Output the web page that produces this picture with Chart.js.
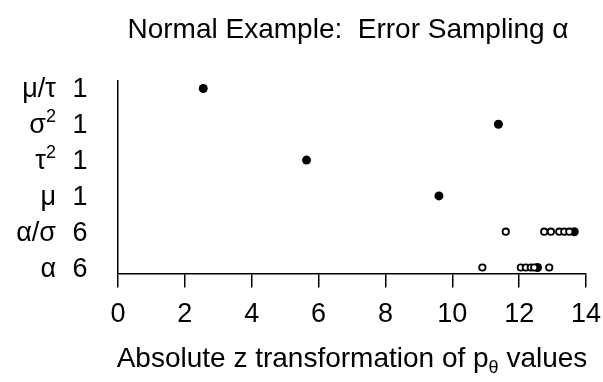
<!DOCTYPE html>
<html>
<head>
<meta charset="utf-8">
<script src="https://cdn.jsdelivr.net/npm/chart.js@4/dist/chart.umd.min.js"></script>
<style>
  html, body { margin: 0; padding: 0; background: #fff; }
  #wrap { width: 603px; height: 382px; }
</style>
</head>
<body>
<div id="wrap"><canvas id="chart"></canvas></div>
<script>
  'use strict';

  // rows bottom to top
  var rowNames = ['α', 'α/σ', 'μ', 'τ²', 'σ²', 'μ/τ'];
  var rowCounts = ['6', '6', '1', '1', '1', '1'];
  var observed = [12.55, 13.65, 9.6, 5.64, 11.38, 2.55];
  var alphaDraws = [10.9, 12.05, 12.2, 12.35, 12.45, 12.9];
  var alphaSigmaDraws = [11.6, 12.75, 12.95, 13.2, 13.35, 13.5];
  var xTicks = [0, 2, 4, 6, 8, 10, 12, 14];

  var FONT = 'Liberation Sans, Arial, Helvetica, sans-serif';
  var SIZE = 27;
  var TITLE_SIZE = 28;

  var filledPts = observed.map(function(v, i){ return {x: v, y: i + 1}; });
  var openPts = alphaDraws.map(function(v){ return {x: v, y: 1}; })
    .concat(alphaSigmaDraws.map(function(v){ return {x: v, y: 2}; }));

  // draws a run of text pieces; '²' becomes a raised small 2
  function splitSup(str){
    var out = [];
    str.split('²').forEach(function(s, i){
      if (i > 0) out.push({t: '2', size: 18, dy: -11});
      if (s) out.push({t: s, size: SIZE, dy: 0});
    });
    return out;
  }

  function measure(ctx, parts){
    var total = 0;
    parts.forEach(function(p){
      ctx.font = p.size + 'px ' + FONT;
      p.w = ctx.measureText(p.t).width;
      total += p.w;
    });
    return total;
  }

  function drawParts(ctx, parts, x, base){
    parts.forEach(function(p){
      ctx.font = p.size + 'px ' + FONT;
      ctx.fillText(p.t, x, base + p.dy);
      x += p.w;
    });
  }

  // row labels on the left, two columns: name and count
  var rowLabels = {
    id: 'rowLabels',
    afterDraw: function(chart){
      var ctx = chart.ctx;
      var y = chart.scales.y;
      var left = chart.chartArea.left;
      ctx.save();
      ctx.fillStyle = '#000';
      ctx.textBaseline = 'alphabetic';
      ctx.textAlign = 'left';
      rowNames.forEach(function(name, i){
        var base = y.getPixelForValue(i + 1) + 9;
        var parts = splitSup(name);
        var w = measure(ctx, parts);
        drawParts(ctx, parts, left - 62 - w, base);
        ctx.font = SIZE + 'px ' + FONT;
        var cw = ctx.measureText(rowCounts[i]).width;
        ctx.fillText(rowCounts[i], left - 38 - cw / 2, base);
      });
      ctx.restore();
    }
  };

  // x axis title with subscript theta
  var xTitle = {
    id: 'xTitle',
    afterDraw: function(chart){
      var ctx = chart.ctx;
      var area = chart.chartArea;
      var parts = [
        {t: 'Absolute z transformation of p', size: TITLE_SIZE, dy: 0},
        {t: 'θ', size: 18, dy: 6},
        {t: ' values', size: TITLE_SIZE, dy: 0}
      ];
      ctx.save();
      ctx.fillStyle = '#000';
      ctx.textBaseline = 'alphabetic';
      ctx.textAlign = 'left';
      var total = measure(ctx, parts);
      drawParts(ctx, parts, (area.left + area.right) / 2 - total / 2, chart.height - 15);
      ctx.restore();
    }
  };

  var config = {
    type: 'scatter',
    data: {
      datasets: [
        {
          label: 'draws',
          data: openPts,
          pointRadius: 3.2,
          pointBorderWidth: 1.8,
          pointBackgroundColor: '#fff',
          pointBorderColor: '#000'
        },
        {
          label: 'observed',
          data: filledPts,
          pointRadius: 4.5,
          pointBorderWidth: 0,
          pointBackgroundColor: '#000',
          pointBorderColor: '#000'
        }
      ]
    },
    options: {
      responsive: true,
      maintainAspectRatio: false,
      animation: false,
      layout: {
        padding: {left: 110, right: 17, top: 0, bottom: 40}
      },
      plugins: {
        legend: {display: false},
        tooltip: {enabled: false},
        title: {
          display: true,
          text: 'Normal Example:  Error Sampling α',
          color: '#000',
          font: {family: FONT, size: TITLE_SIZE, weight: 'normal'},
          padding: {top: 13, bottom: 34}
        }
      },
      scales: {
        x: {
          type: 'linear',
          min: 0,
          max: 14,
          afterBuildTicks: function(axis){
            axis.ticks = xTicks.map(function(v){ return {value: v}; });
          },
          afterFit: function(axis){
            // let the end labels overhang instead of shrinking the plot
            axis.paddingLeft = 0;
            axis.paddingRight = 0;
          },
          ticks: {
            color: '#000',
            font: {family: FONT, size: SIZE},
            padding: 11,
            maxRotation: 0
          },
          grid: {
            drawOnChartArea: false,
            drawTicks: true,
            tickLength: 14,
            color: '#000',
            lineWidth: 1.5
          },
          border: {display: true, color: '#000', width: 1.5}
        },
        y: {
          type: 'linear',
          min: 0.83,
          max: 6.22,
          ticks: {display: false},
          grid: {display: false},
          border: {display: true, color: '#000', width: 1.5}
        }
      }
    },
    plugins: [rowLabels, xTitle]
  };

  var ctx = document.getElementById('chart').getContext('2d');
  var myChart = new Chart(ctx, config);
</script>
</body>
</html>
